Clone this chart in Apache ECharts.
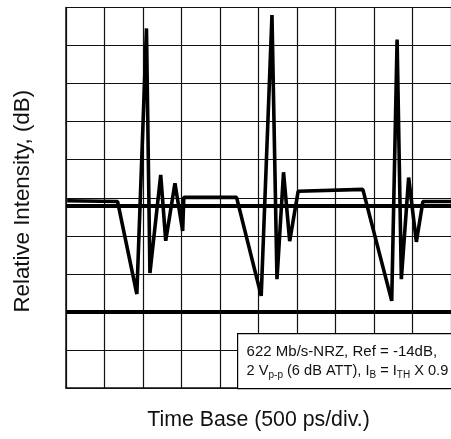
<!DOCTYPE html>
<html>
<head>
<meta charset="utf-8">
<script src="https://cdn.jsdelivr.net/npm/echarts@6/dist/echarts.min.js"></script>
<style>html,body{margin:0;padding:0;background:#fff;}#c{width:451px;height:439px;}</style>
</head>
<body>
<div id="c"></div>
<script>
// Trace, in screen divisions (x: time divisions, y: vertical divisions)
const traceX = [0.03, 1.34, 1.84, 2.09, 2.18, 2.46, 2.59, 2.83, 3.03, 3.06, 4.43, 5.07, 5.35, 5.48, 5.65, 5.81, 6.03, 7.71, 8.46, 8.60, 8.71, 8.90, 9.10, 9.27, 10];
const traceY = [4.92, 4.90, 2.47, 9.45, 3.02, 5.60, 3.87, 5.38, 4.13, 5.01, 5.01, 2.42, 9.80, 2.86, 5.67, 3.86, 5.17, 5.22, 2.29, 9.16, 2.86, 5.53, 3.84, 4.90, 4.90];
// Horizontal reference levels (divisions)
const refLevels = [4.78, 2.0];
const xTitle = 'Time Base (500 ps/div.)';
const yTitle = 'Relative Intensity, (dB)';

const chart = echarts.init(document.getElementById('c'), null, {renderer: 'canvas'});
const FONT = 'Liberation Sans, Arial, sans-serif';
const gridStyle = {show: true, lineStyle: {color: '#111', width: 1.2}};
chart.setOption({
  animation: false,
  backgroundColor: '#fff',
  grid: {left: 66, top: 7.5, width: 389, height: 380.5, containLabel: false},
  xAxis: {
    type: 'value', min: 0, max: 10, interval: 1,
    axisLine: {show: true, lineStyle: {color: '#111', width: 1.5}},
    axisTick: {show: false}, axisLabel: {show: false},
    splitLine: gridStyle,
    name: xTitle, nameLocation: 'middle', nameGap: 22,
    nameTextStyle: {fontFamily: FONT, fontSize: 21.3, color: '#111'}
  },
  yAxis: {
    type: 'value', min: 0, max: 10, interval: 1,
    axisLine: {show: true, lineStyle: {color: '#111', width: 1.5}},
    axisTick: {show: false}, axisLabel: {show: false},
    splitLine: gridStyle,
    name: yTitle, nameLocation: 'middle', nameGap: 32,
    nameTextStyle: {fontFamily: FONT, fontSize: 22.3, color: '#111', padding: [0, 7, 0, 0]}
  },
  series: [
    {
      type: 'line', data: traceX.map((x, i) => [x, traceY[i]]),
      symbol: 'none', lineStyle: {color: '#000', width: 3.6, join: 'bevel'}, z: 5
    },
    ...refLevels.map(v => ({
      type: 'line', data: [[0, v], [10, v]], symbol: 'none',
      lineStyle: {color: '#000', width: 4}, z: 4
    }))
  ],
  graphic: {
    elements: [
      {
        type: 'group', left: 237, top: 333, zlevel: 2, z: 100,
        children: [
          {type: 'rect', zlevel: 2, z: 100, shape: {x: 0, y: 0, width: 240, height: 55}, style: {fill: '#fff', stroke: '#000', lineWidth: 1.2}},
          {type: 'text', zlevel: 2, z: 101, x: 9, y: 9, style: {
            text: '622 Mb/s-NRZ, Ref = -14dB,\n{n|2 V}{s|p-p}{n| (6 dB ATT), I}{s|B}{n| = I}{s|TH}{n| X 0.9}',
            fontFamily: FONT, fontSize: 15, fill: '#111', lineHeight: 19,
            rich: {
              n: {fontSize: 14.6, fontFamily: FONT, fill: '#111', lineHeight: 19},
              s: {fontSize: 10, fontFamily: FONT, fill: '#111', verticalAlign: 'bottom', lineHeight: 19}
            }
          }}
        ]
      }
    ]
  }
});
</script>
</body>
</html>
